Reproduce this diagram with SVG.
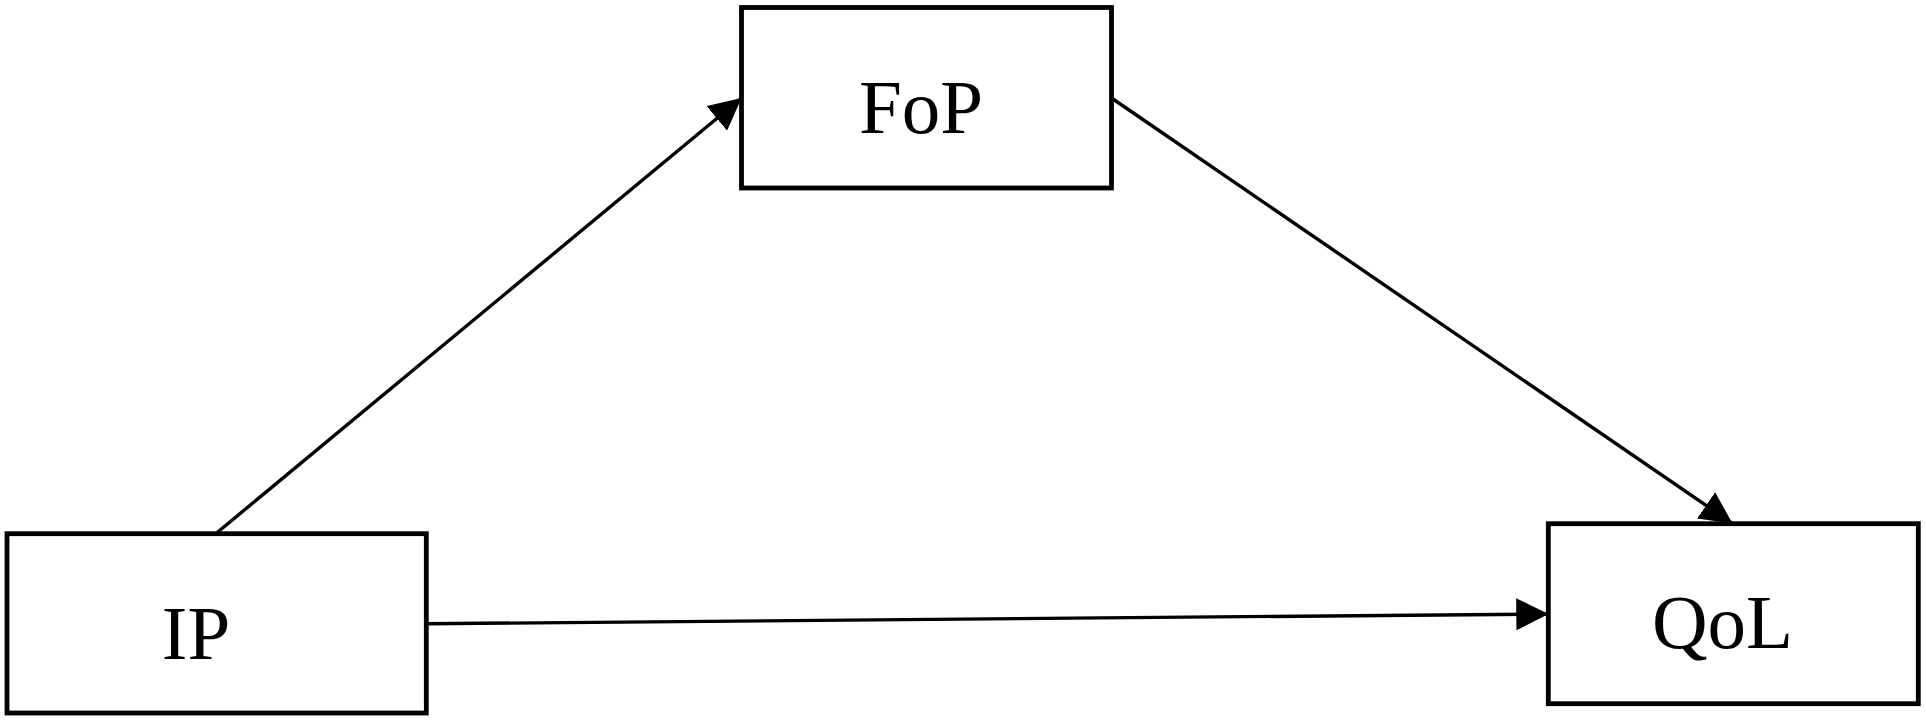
<svg xmlns="http://www.w3.org/2000/svg" width="1926" height="722" viewBox="0 0 1926 722">
<style>
.box{fill:#fff;stroke:#000;stroke-width:4.8}
.lbl{font-family:"Liberation Serif","Times New Roman",serif;font-size:77px;fill:#000;text-anchor:middle}
.edge{fill:none;stroke:#000;stroke-width:3.4;marker-end:url(#ah)}
</style>
<defs>
<marker id="ah" markerUnits="userSpaceOnUse" markerWidth="32" markerHeight="32" viewBox="0 0 30 30" refX="30" refY="15" orient="auto">
<path d="M0,0 L30,15 L0,30 z" fill="#000"/>
</marker>
</defs>
<rect width="1926" height="722" fill="#fff"/>
<g id="node-FoP">
<rect class="box" x="741.5" y="7.5" width="370" height="180.5"/>
<text class="lbl" x="921" y="133">FoP</text>
</g>
<g id="node-IP">
<rect class="box" x="7" y="533.7" width="419.3" height="179.3"/>
<text class="lbl" x="196" y="659">IP</text>
</g>
<g id="node-QoL">
<rect class="box" x="1548.3" y="523.7" width="370" height="180"/>
<text class="lbl" x="1722.5" y="648">QoL</text>
</g>
<g id="connectors">
<path class="edge" d="M216.6,533 L741.5,98"/>
<path class="edge" d="M1111.5,98 L1732.5,523.5"/>
<path class="edge" d="M426.3,623.8 L1548.3,614"/>
</g>
</svg>
